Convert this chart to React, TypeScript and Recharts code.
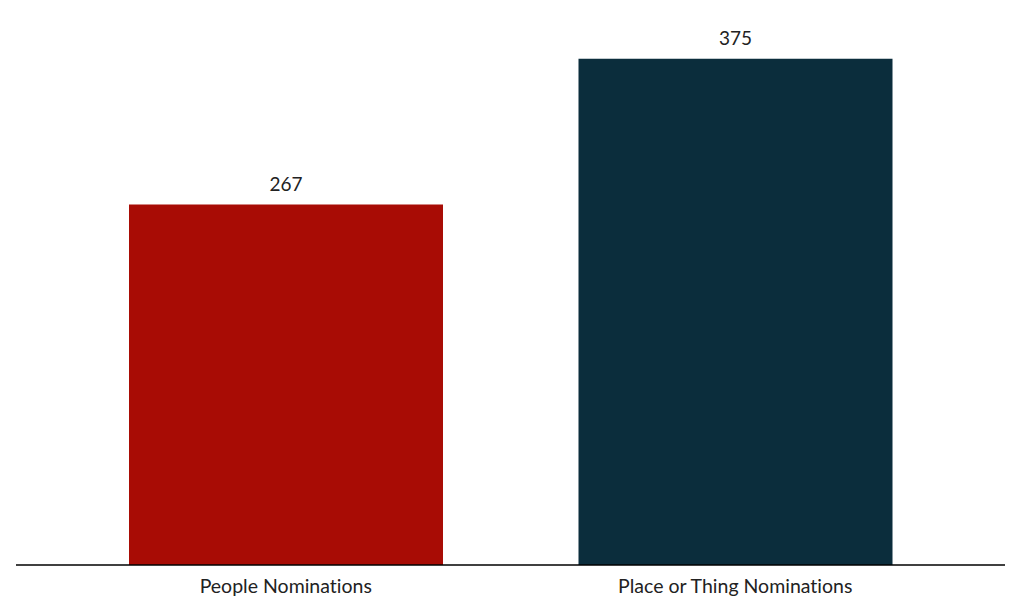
import { BarChart, Bar, XAxis, YAxis, Cell, LabelList } from "recharts";

const categories = ["People Nominations", "Place or Thing Nominations"];
const counts = [267, 375];
const barColors = ["#a80c05", "#0b2d3c"];

const data = categories.map((name, i) => ({ name, count: counts[i] }));

export default function App() {
  return (
    <div style={{ fontFamily: "Lato, sans-serif", fontVariantLigatures: "none" }}>
      <BarChart
        width={1013}
        height={592}
        data={data}
        margin={{ top: 17, right: 16, left: 8, bottom: 1 }}
      >
        <XAxis
          dataKey="name"
          height={34}
          padding={{ left: 45, right: 45 }}
          axisLine={{ stroke: "#000", strokeWidth: 1.5 }}
          tickLine={false}
          tickMargin={8}
          tick={{ fill: "#222", fontSize: 19.5, fontFamily: "Lato" }}
        />
        <YAxis hide domain={[0, 400]} />
        <Bar dataKey="count" barSize={314} isAnimationActive={false}>
          {data.map((entry, index) => (
            <Cell key={index} fill={barColors[index]} />
          ))}
          <LabelList
            dataKey="count"
            position="top"
            offset={14}
            fill="#222"
            fontSize={19}
            fontFamily="Lato"
          />
        </Bar>
      </BarChart>
    </div>
  );
}
